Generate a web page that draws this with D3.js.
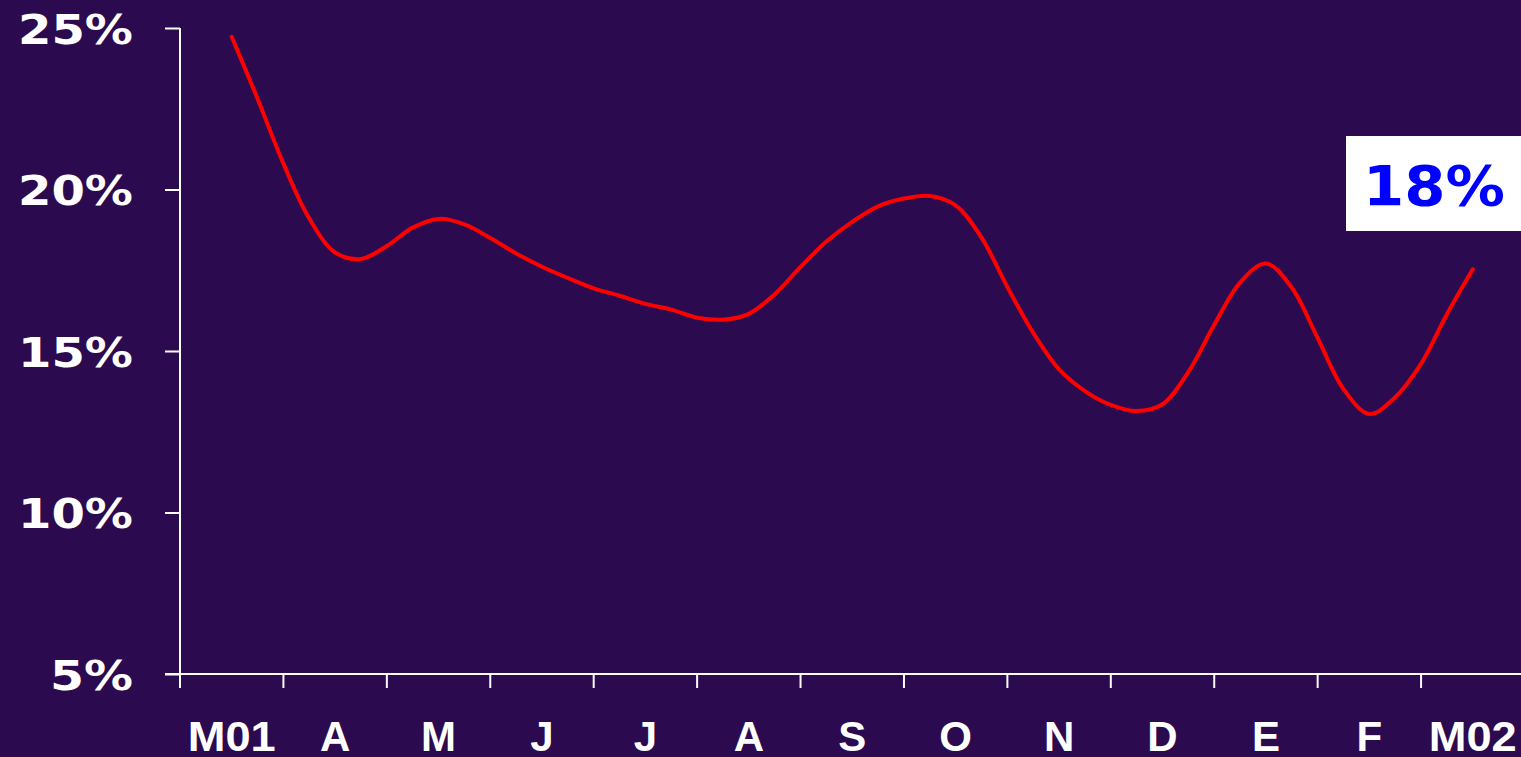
<!DOCTYPE html>
<html>
<head>
<meta charset="utf-8">
<script src="https://cdn.jsdelivr.net/npm/d3@7"></script>
<style>
  html, body { margin: 0; padding: 0; background: #2b0a50; overflow: hidden; }
  svg { display: block; }
</style>
</head>
<body>
<svg id="chart" width="1521" height="757"></svg>
<script>
// ---- data ----
const categories = ["M01", "A", "M", "J", "J", "A", "S", "O", "N", "D", "E", "F", "M02"];
const yTicks = [5, 10, 15, 20, 25];
// value read every quarter month, from the middle of M01 to the middle of M02
const rateValues = [
  24.73, 22.81, 20.80, 19.10, 18.05, 17.85, 18.25, 18.82, 19.09, 18.92,
  18.50, 18.02, 17.61, 17.26, 16.94, 16.71, 16.46, 16.28, 16.03, 15.97,
  16.15, 16.76, 17.60, 18.39, 19.00, 19.48, 19.72, 19.80, 19.51, 18.51,
  16.98, 15.56, 14.43, 13.76, 13.33, 13.14, 13.35, 14.35, 15.81, 17.12,
  17.71, 16.96, 15.40, 13.82, 13.05, 13.57, 14.61, 16.14, 17.53
];
const stepsPerMonth = 4;
const calloutLabel = "18%";

// ---- layout ----
const svg = d3.select("#chart");
const plotLeft = 180, plotRight = 1524.5, plotTop = 28, plotBottom = 674;
const white = "#ffffff";

svg.append("rect").attr("width", 1521).attr("height", 757).attr("fill", "#2b0a50");

const x = d3.scaleLinear().domain([0, categories.length]).range([plotLeft, plotRight]);
const y = d3.scaleLinear().domain([5, 25]).range([plotBottom, plotTop]);

// y axis
const yAxis = d3.axisLeft(y).tickValues(yTicks).tickSize(15).tickFormat(d => d + "%");
const gy = svg.append("g").attr("transform", `translate(${plotLeft},0)`).call(yAxis);
gy.select(".domain").remove();
gy.selectAll(".tick line").attr("stroke", white).attr("stroke-width", 2);
gy.selectAll(".tick text")
  .attr("fill", white)
  .attr("font-family", "'DejaVu Sans', Verdana, sans-serif")
  .attr("font-weight", "bold")
  .attr("font-size", 40)
  .attr("x", -47)
  .attr("dy", null)
  .attr("y", 15)
  .attr("text-anchor", "end")
  .attr("textLength", d => d < 10 ? 83 : 115)
  .attr("lengthAdjust", "spacingAndGlyphs");

// axis lines
svg.append("line").attr("x1", plotLeft).attr("x2", plotLeft).attr("y1", plotTop).attr("y2", plotBottom + 14)
  .attr("stroke", white).attr("stroke-width", 2);
svg.append("line").attr("x1", plotLeft - 15).attr("x2", 1521).attr("y1", plotBottom).attr("y2", plotBottom)
  .attr("stroke", white).attr("stroke-width", 2);

// x ticks (category boundaries)
const xTickIdx = d3.range(1, categories.length + 1);
svg.append("g").selectAll("line").data(xTickIdx).join("line")
  .attr("x1", d => x(d)).attr("x2", d => x(d))
  .attr("y1", plotBottom).attr("y2", plotBottom + 14)
  .attr("stroke", white).attr("stroke-width", 2);

// x labels
svg.append("g").selectAll("text").data(categories).join("text")
  .attr("x", (d, i) => x(i + 0.5))
  .attr("y", 751)
  .attr("text-anchor", "middle")
  .attr("fill", white)
  .attr("font-family", "'Liberation Sans', Arial, sans-serif")
  .attr("font-weight", "bold")
  .attr("font-size", 42)
  .each(function(d) {
    if (d.length > 1) d3.select(this).attr("textLength", 88).attr("lengthAdjust", "spacingAndGlyphs");
  })
  .text(d => d);

// line
const line = d3.line()
  .x((d, i) => x(0.5 + i / stepsPerMonth))
  .y(d => y(d))
  .curve(d3.curveCatmullRom.alpha(0.5));
svg.append("path").datum(rateValues)
  .attr("d", line)
  .attr("fill", "none")
  .attr("stroke", "#ff0000")
  .attr("stroke-width", 4)
  .attr("stroke-linejoin", "round")
  .attr("stroke-linecap", "round");

// callout box
svg.append("rect").attr("x", 1346).attr("y", 136).attr("width", 180).attr("height", 95).attr("fill", white);
svg.append("text")
  .attr("x", 1363).attr("y", 205)
  .attr("fill", "#0000ff")
  .attr("font-family", "'DejaVu Sans', Verdana, sans-serif")
  .attr("font-weight", "bold")
  .attr("font-size", 55)
  .attr("textLength", 142)
  .attr("lengthAdjust", "spacingAndGlyphs")
  .text(calloutLabel);
</script>
</body>
</html>
